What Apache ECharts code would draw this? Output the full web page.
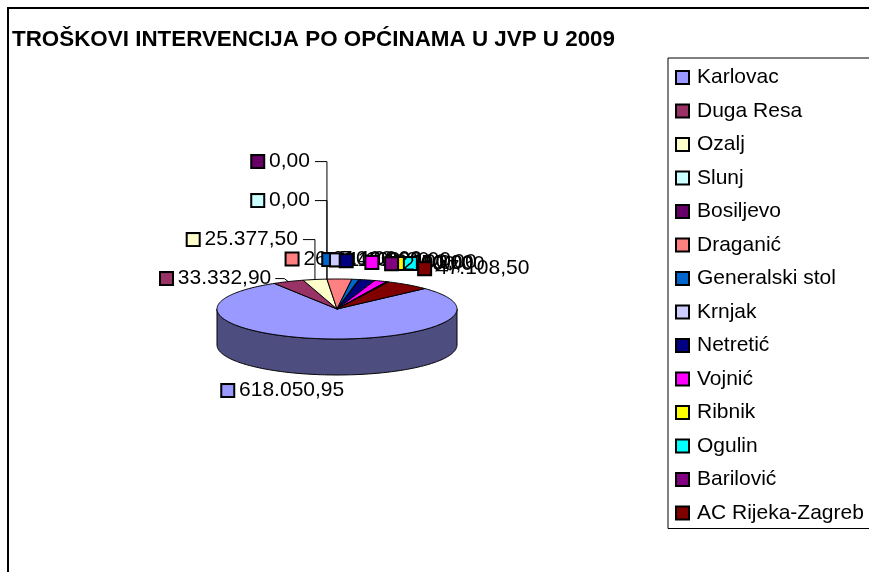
<!DOCTYPE html>
<html>
<head>
<meta charset="utf-8">
<title>Troškovi intervencija po općinama u JVP u 2009</title>
<script src="https://cdn.jsdelivr.net/npm/echarts@6/dist/echarts.min.js"></script>
<style>
html, body { margin: 0; padding: 0; background: #fff; }
#main { width: 869px; height: 572px; }
</style>
</head>
<body>
<div id="main"></div>
<script>
var categories = ['Karlovac', 'Duga Resa', 'Ozalj', 'Slunj', 'Bosiljevo', 'Draganić', 'Generalski stol',
    'Krnjak', 'Netretić', 'Vojnić', 'Ribnik', 'Ogulin', 'Barilović', 'AC Rijeka-Zagreb'];
var costs = [618050.95, 33332.90, 25377.50, 0, 0, 26210.00, 7400.00,
    1100.00, 16200.00, 13100.00, 650.00, 0, 2000.00, 47108.50];
var colors = ['#9999FF', '#993366', '#FFFFCC', '#CCFFFF', '#660066', '#FF8080', '#0066CC',
    '#CCCCFF', '#000080', '#FF00FF', '#FFFF00', '#00FFFF', '#800080', '#800000'];

var FONT = '21px "Liberation Sans", Arial, sans-serif';
// 3D pie geometry (angles clockwise from 12 o'clock, like Excel)
var pie = { cx: 337, cy: 309, rx: 120, ry: 30, depth: 36, firstAngle: 47 };
var total = costs.reduce(function (s, v) { return s + v; }, 0);

function ptAt(a, dy) {
    var r = a * Math.PI / 180;
    return [pie.cx + pie.rx * Math.sin(r), pie.cy - pie.ry * Math.cos(r) + (dy || 0)];
}
function arcPts(a0, a1, dy) {
    var pts = [], n = Math.max(1, Math.ceil(Math.abs(a1 - a0)));
    for (var k = 0; k <= n; k++) pts.push(ptAt(a0 + (a1 - a0) * k / n, dy));
    return pts;
}
function fmt(v) {
    var p = v.toFixed(2).split('.');
    return p[0].replace(/\B(?=(\d{3})+(?!\d))/g, '.') + ',' + p[1];
}
function shade(hex, f) {
    var c = echarts.color.parse(hex);
    return 'rgb(' + Math.round(c[0] * f) + ',' + Math.round(c[1] * f) + ',' + Math.round(c[2] * f) + ')';
}

// slice angles + label placement
var slices = [];
var acc = 0, leftCount = 0, leftBase = null;
costs.forEach(function (v, i) {
    var a0 = pie.firstAngle + acc / total * 360;
    acc += v;
    var a1 = pie.firstAngle + acc / total * 360;
    var m = (((a0 + a1) / 2 % 360) + 540) % 360 - 180;
    var r = m * Math.PI / 180;
    var anchor = ptAt(m);
    var s = { a0: a0, a1: a1, m: m };
    if (Math.abs(m) > 90) {
        // front labels sit under the side wall
        s.label = { x: pie.cx + 400 * Math.sin(r), y: pie.cy - 50 * Math.cos(r) + pie.depth - 4, align: 'center' };
    } else if (m < -3) {
        // labels on the back-left get stacked upwards with leader lines
        if (leftBase === null) leftBase = anchor[1] - 3;
        var y = leftBase - 39 * leftCount;
        s.label = { x: anchor[0] - 17, y: y, align: 'right' };
        s.leader = leftCount === 0
            ? [[anchor[0] - 13, y], [anchor[0] - 4, y], anchor]
            : [[anchor[0] - 12, y], [anchor[0], y], anchor];
        leftCount++;
    } else {
        s.label = { x: pie.cx + 232 * Math.sin(r), y: pie.cy - 50 * Math.cos(r), align: 'center' };
    }
    slices.push(s);
});

function renderSlice(i) {
    return function (params, api) {
        var s = slices[i], color = colors[i], kids = [];
        [[90, 270], [450, 630]].forEach(function (f) {
            var lo = Math.max(s.a0, f[0]), hi = Math.min(s.a1, f[1]);
            if (hi > lo) {
                kids.push({
                    type: 'polygon', z2: 1,
                    shape: { points: arcPts(lo, hi, 0).concat(arcPts(hi, lo, pie.depth)) },
                    style: { fill: shade(color, 0.5), stroke: '#000', lineWidth: 1 }
                });
            }
        });
        if (s.a1 > s.a0) {
            kids.push({
                type: 'polygon', z2: 10,
                shape: { points: [[pie.cx, pie.cy]].concat(arcPts(s.a0, s.a1, 0)) },
                style: { fill: color, stroke: '#000', lineWidth: 1 }
            });
        }
        if (s.leader) {
            kids.push({
                type: 'polyline', z2: 30,
                shape: { points: s.leader },
                style: { stroke: '#000', lineWidth: 1, fill: null }
            });
        }
        kids.push({
            type: 'text', z2: 40 + i,
            x: s.label.x, y: s.label.y,
            style: {
                text: '{b|} ' + fmt(costs[i]),
                align: s.label.align, verticalAlign: 'middle',
                font: FONT, fill: '#000',
                rich: { b: { width: 11, height: 11, backgroundColor: color, borderColor: '#000', borderWidth: 2 } }
            }
        });
        return { type: 'group', children: kids };
    };
}

var myChart = echarts.init(document.getElementById('main'), null, { renderer: 'canvas' });
var option = {
    animation: false,
    color: colors,
    textStyle: { fontFamily: '"Liberation Sans", Arial, sans-serif' },
    title: {
        text: 'TROŠKOVI INTERVENCIJA PO OPĆINAMA U JVP U 2009',
        left: 12, top: 29, padding: 0,
        textStyle: { fontSize: 22.4, fontWeight: 'bold', color: '#000', fontFamily: '"Liberation Sans", Arial, sans-serif' }
    },
    legend: {
        orient: 'vertical',
        left: 668, top: 58,
        padding: [9, 150, 5, 7],
        itemGap: 12.5,
        itemWidth: 13, itemHeight: 13,
        icon: 'rect',
        borderColor: '#000', borderWidth: 1,
        itemStyle: { borderColor: '#000', borderWidth: 2 },
        textStyle: { fontSize: 21, lineHeight: 21, color: '#000', padding: [0, 0, 0, 3] },
        data: categories
    },
    graphic: [{
        type: 'rect', silent: true,
        shape: { x: 8, y: 8, width: 900, height: 600 },
        style: { fill: null, stroke: '#000', lineWidth: 2 }
    }],
    series: categories.map(function (name, i) {
        return {
            type: 'custom',
            name: name,
            coordinateSystem: 'none',
            itemStyle: { color: colors[i] },
            renderItem: renderSlice(i),
            data: [costs[i]]
        };
    })
};
myChart.setOption(option);
</script>
</body>
</html>
